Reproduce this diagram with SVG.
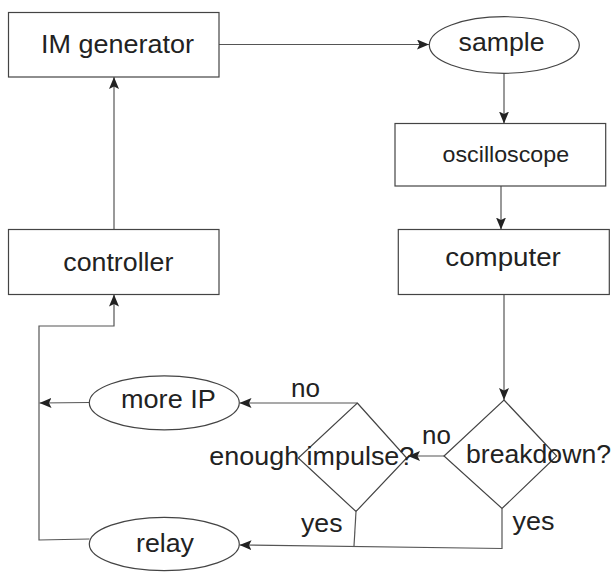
<svg xmlns="http://www.w3.org/2000/svg" width="614" height="572" viewBox="0 0 614 572">
  <style>
    .shape { fill: #ffffff; stroke: #444444; stroke-width: 1.2; }
    .wire { fill: none; stroke: #555555; stroke-width: 1.2; }
    .lbl { font-family: "Liberation Sans", Arial, sans-serif; font-size: 25px; fill: #222222; }
    .small { font-size: 21.5px; }
  </style>
  <defs>
    <marker id="arrow" viewBox="0 0 12 10" refX="12" refY="5" markerWidth="12" markerHeight="10" markerUnits="userSpaceOnUse" orient="auto">
      <path d="M0,0 L12,5 L0,10 L2.5,5 z" fill="#222222"/>
    </marker>
  </defs>

  <rect width="614" height="572" fill="#ffffff"/>

  <!-- connectors -->
  <g id="connectors">
    <line class="wire" x1="219" y1="44.5" x2="429" y2="44.5" marker-end="url(#arrow)"/>
    <line class="wire" x1="504" y1="73" x2="504" y2="123.5" marker-end="url(#arrow)"/>
    <line class="wire" x1="501" y1="186" x2="501" y2="229.5" marker-end="url(#arrow)"/>
    <line class="wire" x1="504" y1="294.5" x2="504" y2="400" marker-end="url(#arrow)"/>
    <line class="wire" x1="444" y1="456" x2="408" y2="456" marker-end="url(#arrow)"/>
    <polyline class="wire" points="357,403 239.5,403" marker-end="url(#arrow)"/>
    <line class="wire" x1="89.5" y1="402.5" x2="39.5" y2="403" marker-end="url(#arrow)"/>
    <polyline class="wire" points="356,511.5 354,546"/>
    <polyline class="wire" points="502,508.5 502,548.5 239.5,545" marker-end="url(#arrow)"/>
    <polyline class="wire" points="89.5,539 39,540 39,326 114,326 114,294.5" marker-end="url(#arrow)"/>
    <line class="wire" x1="114" y1="229.5" x2="114" y2="77" marker-end="url(#arrow)"/>
  </g>

  <g id="im-generator">
    <rect class="shape" x="8.5" y="12.5" width="210.5" height="64.5"/>
    <text class="lbl" x="41" y="52.7" textLength="153" lengthAdjust="spacingAndGlyphs">IM generator</text>
  </g>

  <g id="sample">
    <ellipse class="shape" cx="504.3" cy="45" rx="75" ry="28.3"/>
    <text class="lbl" x="458.6" y="50.7" textLength="86" lengthAdjust="spacingAndGlyphs">sample</text>
  </g>

  <g id="oscilloscope">
    <rect class="shape" x="395" y="123.5" width="210.7" height="62.5"/>
    <text class="lbl small" x="442.6" y="161.7" textLength="126.5" lengthAdjust="spacingAndGlyphs">oscilloscope</text>
  </g>

  <g id="computer">
    <rect class="shape" x="398.3" y="229.5" width="211" height="65"/>
    <text class="lbl" x="445.3" y="265.7" textLength="115.5" lengthAdjust="spacingAndGlyphs">computer</text>
  </g>

  <g id="controller">
    <rect class="shape" x="8.5" y="229.5" width="210.5" height="65"/>
    <text class="lbl" x="63.3" y="270.7" textLength="110" lengthAdjust="spacingAndGlyphs">controller</text>
  </g>

  <g id="breakdown">
    <polygon class="shape" points="504,400 556.7,456 502,508.5 444,456"/>
    <text class="lbl" x="466" y="462.7" textLength="145" lengthAdjust="spacingAndGlyphs">breakdown?</text>
  </g>

  <g id="enough-impulse">
    <polygon class="shape" points="357.3,403 406.7,458 356,511.5 298.3,458"/>
    <text class="lbl" x="209.3" y="465" textLength="205" lengthAdjust="spacingAndGlyphs">enough impulse?</text>
  </g>

  <g id="more-ip">
    <ellipse class="shape" cx="164.3" cy="402.8" rx="75" ry="27"/>
    <text class="lbl" x="121" y="408.3" textLength="94.8" lengthAdjust="spacingAndGlyphs">more IP</text>
  </g>

  <g id="relay">
    <ellipse class="shape" cx="164.3" cy="544" rx="75" ry="26.7"/>
    <text class="lbl" x="136" y="551.7" textLength="58" lengthAdjust="spacingAndGlyphs">relay</text>
  </g>

  <!-- branch labels -->
  <g id="branch-labels">
    <text class="lbl" x="291" y="397.3" textLength="29" lengthAdjust="spacingAndGlyphs">no</text>
    <text class="lbl" x="422" y="444" textLength="28.8" lengthAdjust="spacingAndGlyphs">no</text>
    <text class="lbl" x="301" y="531.7" textLength="41.5" lengthAdjust="spacingAndGlyphs">yes</text>
    <text class="lbl" x="512.6" y="530" textLength="42" lengthAdjust="spacingAndGlyphs">yes</text>
  </g>
</svg>
